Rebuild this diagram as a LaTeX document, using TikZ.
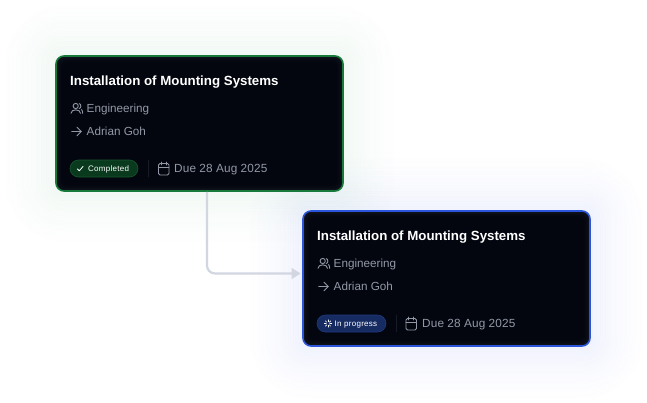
\documentclass[tikz,border=0pt]{standalone}
\usepackage{fontspec}
\setmainfont{Liberation Sans}
\newfontfamily\titlefont{Liberation Sans}
\newfontfamily\metafont{Liberation Sans}
\newfontfamily\duefont[LetterSpace=1]{Liberation Sans}
\newfontfamily\chipfont[LetterSpace=3.5]{Liberation Sans}
\usetikzlibrary{arrows.meta,calc}
\definecolor{cardbg}{HTML}{03060F}
\definecolor{cardtop}{HTML}{10121C}
\definecolor{greenedge}{HTML}{17793A}
\definecolor{blueedge}{HTML}{2B55DA}
\definecolor{greenglow}{HTML}{F2F9F5}
\definecolor{blueglow}{HTML}{F1F3FE}
\definecolor{metatext}{HTML}{9298A6}
\definecolor{linkcol}{HTML}{D2D6E1}
\definecolor{greenchip}{HTML}{0A3A1E}
\definecolor{greenchipedge}{HTML}{17562F}
\definecolor{bluechip}{HTML}{172B63}
\definecolor{bluechipedge}{HTML}{1F3A80}
\definecolor{dividercol}{HTML}{171B26}
\tikzset{
  cardbox/.style={rounded corners=8pt,line width=1.6pt,fill=cardtop,minimum width=287pt,minimum height=135pt,inner sep=0pt},
  cardtitle/.style={anchor=base west,inner sep=0pt,text=white,font=\titlefont\fontsize{13.3}{15}\selectfont\bfseries},
  cardmeta/.style={anchor=base west,inner sep=0pt,text=metatext,font=\metafont\fontsize{11.7}{14}\selectfont},
  cardue/.style={anchor=base west,inner sep=0pt,text=metatext,font=\duefont\fontsize{11.8}{14}\selectfont},
  chiptext/.style={anchor=base west,inner sep=0pt,font=\chipfont\fontsize{8}{10}\selectfont},
  chipbox/.style={rounded corners=8.5pt,line width=0.6pt,minimum height=17pt,inner sep=0pt},
  iconline/.style={draw=metatext,line width=0.9pt,line cap=round,line join=round,fill=none},
  linkline/.style={draw=linkcol,line width=2.2pt,rounded corners=8pt,-{Triangle[length=9pt,width=10.5pt,fill=linkcol]}},
}
% concentric rings that do not overlap, multiplied on the white page
\newcommand{\glow}[3]{%
  \foreach \t in {0,...,23}{
    \pgfmathsetmacro{\ra}{2.5*\t}
    \pgfmathsetmacro{\rb}{2.5*\t+2.5}
    \pgfmathsetmacro{\pc}{100*(1-(\t+0.5)/24)^1.6}
    \fill[#3!\pc!white,even odd rule,blend mode=multiply]
      [rounded corners={(8+\rb)*1pt}] (#1-143.5-\rb,#2-67.5-\rb) rectangle (#1+143.5+\rb,#2+67.5+\rb)
      [rounded corners={(8+\ra)*1pt}] (#1-143.5-\ra,#2-67.5-\ra) rectangle (#1+143.5+\ra,#2+67.5+\ra);
  }
}
\newcommand{\cardinner}[2]{%
  \foreach \i in {1,2,...,7}{
    \fill[cardbg,opacity=0.28,rounded corners=7pt] (#1-143+\i,#2-67+\i) rectangle (#1+143-\i,#2+67-\i);
  }
}
\newcommand{\cardicons}{%
  \draw[iconline] (75.7,106) circle (2.6);
  \draw[iconline] (71,113.3) .. controls (71,108.7) and (80.5,108.7) .. (80.5,113.3);
  \draw[iconline] (79.2,103.6) .. controls (81.4,104) and (81.4,108.2) .. (79.2,108.5);
  \draw[iconline] (81.6,109.5) .. controls (82.4,110.3) and (82.6,112) .. (82.6,113.3);
  \draw[iconline] (71.7,131.5) -- (81.2,131.5);
  \draw[iconline] (76.9,127.2) -- (81.2,131.5) -- (76.9,135.8);
}
\newcommand{\calicon}[1]{%
  \draw[iconline,rounded corners=1.5pt] (#1,163.5) rectangle (#1+10.5,175);
  \draw[iconline] (#1,167.5) -- (#1+10.5,167.5);
  \draw[iconline] (#1+2.8,162) -- (#1+2.8,165);
  \draw[iconline] (#1+7.7,162) -- (#1+7.7,165);
}
\begin{document}
\begin{tikzpicture}[x=1pt,y=-1pt]
\useasboundingbox (0,0) rectangle (647,402);
\fill[white] (0,0) rectangle (647,402);
\glow{199.5}{123.5}{greenglow}
\glow{446.5}{278.5}{blueglow}

\node[cardbox,draw=blueedge] (card2) at (446.5,278.5) {};
\node[cardbox,draw=greenedge] (card1) at (199.5,123.5) {};
\coordinate (linkstart) at ($(card1.south)+(7.5,0)$);
\coordinate (linkend) at ($(card2.west)+(-1.5,-5)$);
\draw[linkline] (linkstart) |- (linkend);
\cardinner{199.5}{123.5}
\cardinner{446.5}{278.5}

\begin{scope}
  \node[cardtitle] (t1) at (70,85) {Installation of Mounting Systems};
  \cardicons
  \node[cardmeta] (e1) at (86.5,112) {Engineering};
  \node[cardmeta] (a1) at (86.5,135.7) {Adrian Goh};
  \node[chipbox,fill=greenchip,draw=greenchipedge,minimum width=68pt] (chip1) at (104,168.5) {};
  \draw[white,line width=0.8pt,line cap=round,line join=round] (77.5,169) -- (79.3,170.8) -- (83,166.5);
  \node[chiptext,text=white] (c1) at (88,171.5) {Completed};
  \draw[dividercol,line width=0.8pt] (148,160) -- (148,177);
  \calicon{158.5}
  \node[cardue] (d1) at (174,172.7) {Due 28 Aug 2025};
\end{scope}

\begin{scope}[shift={(247,155)}]
  \node[cardtitle] (t2) at (70,85) {Installation of Mounting Systems};
  \cardicons
  \node[cardmeta] (e2) at (86.5,112) {Engineering};
  \node[cardmeta] (a2) at (86.5,135.7) {Adrian Goh};
  \node[chipbox,fill=bluechip,draw=bluechipedge,minimum width=69pt] (chip2) at (104.5,168.5) {};
  \foreach \a in {0,45,...,315}{
    \draw[white,line width=0.7pt,line cap=round] ($(81,168.5)+(\a:1.8)$) -- ($(81,168.5)+(\a:3.6)$);
  }
  \node[chiptext,text=white] (c2) at (87.5,171.5) {In progress};
  \draw[dividercol,line width=0.8pt] (149,160) -- (149,177);
  \calicon{159}
  \node[cardue] (d2) at (175,172.7) {Due 28 Aug 2025};
\end{scope}
\end{tikzpicture}
\end{document}
